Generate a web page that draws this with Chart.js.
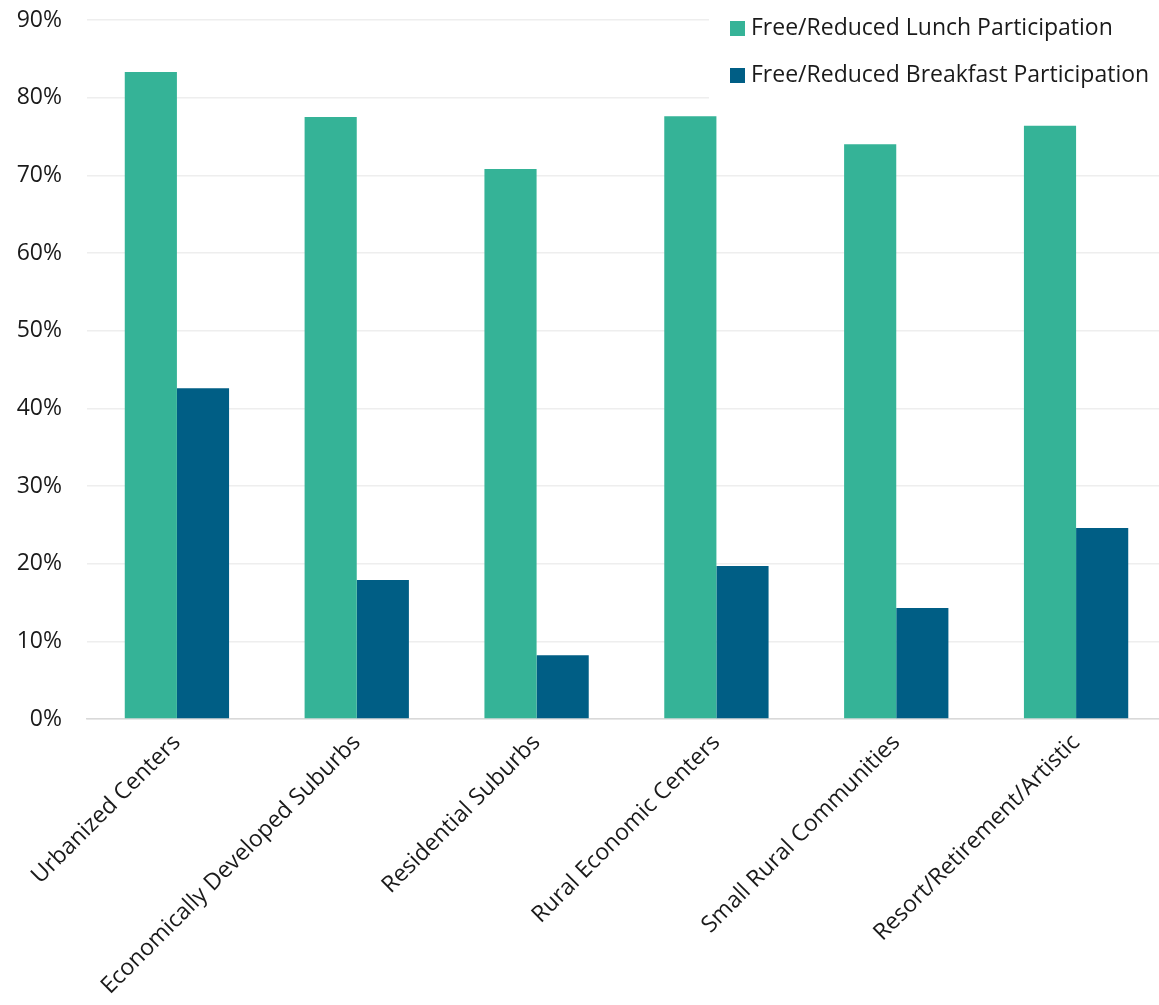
<!DOCTYPE html>
<html>
<head>
<meta charset="utf-8">
<script src="https://cdn.jsdelivr.net/npm/chart.js@4/dist/chart.umd.min.js"></script>
<style>
    html, body { margin: 0; padding: 0; background: #fff; overflow: hidden; }
    #wrap { position: relative; width: 1166px; height: 1005px; }
</style>
</head>
<body>
<div id="wrap"><canvas id="mealChart"></canvas></div>
<script>
// Meal program participation by community type.
const categories = [
    'Urbanized Centers',
    'Economically Developed Suburbs',
    'Residential Suburbs',
    'Rural Economic Centers',
    'Small Rural Communities',
    'Resort/Retirement/Artistic',
];
const lunchRates = [0.833, 0.775, 0.708, 0.776, 0.740, 0.764];
const breakfastRates = [0.426, 0.179, 0.082, 0.197, 0.143, 0.246];
const yTicks = [0, 0.1, 0.2, 0.3, 0.4, 0.5, 0.6, 0.7, 0.8, 0.9];

const FONT = '"Open Sans", "DejaVu Sans", sans-serif';
const LUNCH_COLOR = '#35B397';
const BREAKFAST_COLOR = '#005E85';

// Stacked legend in the top-right corner, on a white box over the grid.
const cornerLegend = {
    id: 'cornerLegend',
    afterDraw(chart) {
        const ctx = chart.ctx;
        const x = 709;
        ctx.save();
        ctx.fillStyle = '#fff';
        ctx.fillRect(x, 0, chart.width - x, 104);
        ctx.font = `23px ${FONT}`;
        ctx.textBaseline = 'middle';
        chart.data.datasets.forEach((ds, i) => {
            const cy = 28 + i * 47;
            ctx.fillStyle = ds.backgroundColor;
            ctx.fillRect(730, cy - 7, 15, 15);
            ctx.fillStyle = '#1a1a1a';
            ctx.fillText(ds.label, 751, cy);
        });
        ctx.restore();
    },
};

document.addEventListener('DOMContentLoaded', () => {
    const ctx = document.getElementById('mealChart');
    new Chart(ctx, {
        type: 'bar',
        data: {
            labels: categories,
            datasets: [
                {
                    label: 'Free/Reduced Lunch Participation',
                    data: lunchRates,
                    backgroundColor: LUNCH_COLOR,
                    barPercentage: 1,
                    categoryPercentage: 0.58,
                },
                {
                    label: 'Free/Reduced Breakfast Participation',
                    data: breakfastRates,
                    backgroundColor: BREAKFAST_COLOR,
                    barPercentage: 1,
                    categoryPercentage: 0.58,
                },
            ],
        },
        options: {
            responsive: true,
            maintainAspectRatio: false,
            animation: false,
            layout: { padding: { top: 0, right: 0, left: 0, bottom: 0 } },
            plugins: {
                legend: { display: false },
                tooltip: { enabled: false },
            },
            scales: {
                x: {
                    grid: { display: false, drawTicks: false },
                    border: { color: '#D9D9D9', width: 1.5 },
                    ticks: {
                        color: '#1a1a1a',
                        font: { family: FONT, size: 23 },
                        minRotation: 45,
                        maxRotation: 45,
                        padding: 10,
                        autoSkip: false,
                    },
                    afterFit(scale) {
                        scale.height = 286;
                        scale.paddingLeft = 0;
                        scale.paddingRight = 0;
                    },
                },
                y: {
                    min: 0,
                    max: 0.9,
                    afterBuildTicks(scale) {
                        scale.ticks = yTicks.map((value) => ({ value }));
                    },
                    afterFit(scale) {
                        scale.width = 87;
                        scale.paddingTop = 20;
                        scale.paddingBottom = 0;
                    },
                    grid: { color: '#EEEEEE', lineWidth: 1.5, drawTicks: false },
                    border: { display: false },
                    ticks: {
                        color: '#1a1a1a',
                        font: { family: FONT, size: 23 },
                        padding: 25,
                        callback: (value) => `${Math.round(value * 100)}%`,
                    },
                },
            },
        },
        plugins: [cornerLegend],
    });
});
</script>
</body>
</html>
